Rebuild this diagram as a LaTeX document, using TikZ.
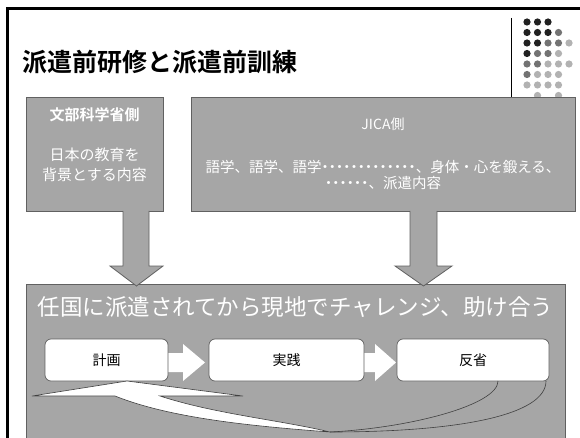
\documentclass[tikz,border=0pt]{standalone}
\usepackage{fontspec}
\setmainfont{Noto Sans CJK JP}[BoldFont={Noto Sans CJK JP Bold}]
\newfontfamily\proptext{Noto Sans CJK JP}[RawFeature={+palt}]
\newcommand{\dotrun}[1]{{\proptext #1}}
\usetikzlibrary{calc}

\definecolor{boxgray}{gray}{0.65}
\definecolor{edgegray}{gray}{0.38}
\definecolor{dotd}{gray}{0.13}
\definecolor{dotm}{gray}{0.45}
\definecolor{dotl}{gray}{0.70}

\tikzset{
  graybox/.style={draw=edgegray, fill=boxgray, line width=0.8pt, inner sep=0pt},
  stepbox/.style={draw=edgegray, fill=white, rounded corners=6pt, line width=0.7pt,
    inner sep=0pt, minimum height=42pt, font=\fontsize{14}{16}\selectfont},
  whitetext/.style={text=white, inner sep=0pt},
  blockarrow/.style={draw=edgegray, fill=boxgray, line width=0.8pt},
  flowarrow/.style={fill=white},
  backline/.style={draw=black!75, line width=0.6pt},
}

\begin{document}
\begin{tikzpicture}[x=1pt,y=-1pt]
\useasboundingbox (0,0) rectangle (580,438);
\clip (0,0) rectangle (580,438);
\fill[white] (0,0) rectangle (580,438);
% frame and title
\draw[line width=3pt] (7,442) -- (7,9) -- (584,9);
\node[anchor=west, inner sep=0pt, font=\fontsize{25}{30}\selectfont\bfseries] (title) at (22,62) {派遣前研修と派遣前訓練};
\draw[line width=0.8pt] (511,18) -- (511,97);
% dot pattern
\foreach \i/\j/\c in {1/1/d,1/2/d,1/3/d,
  2/1/d,2/2/d,2/3/d,2/4/m,
  3/1/d,3/2/d,3/3/m,3/4/m,3/5/l,
  4/1/d,4/2/m,4/3/m,4/4/l,
  5/1/m,5/2/m,5/3/l,5/4/l,5/5/l,
  6/1/m,6/2/l,6/3/l,6/4/l,
  7/1/l,7/2/l,7/3/l,7/4/l,
  8/2/l,8/4/l}
  \fill[dot\c] ({516.5+10.5*\j},{11.5+10.5*\i}) circle (3.6);
% upper boxes
\node[graybox, minimum width=137pt, minimum height=114pt] (mext) at (94.5,154) {};
\node[graybox, minimum width=384pt, minimum height=114pt] (jica) at (383,154) {};
\node[whitetext, font=\fontsize{15}{18}\selectfont\bfseries] (mexthead) at (94.5,115) {文部科学省側};
\node[whitetext, font=\fontsize{15}{20}\selectfont, align=center] (mextbody) at (94.5,165) {日本の教育を\\背景とする内容};
\node[whitetext, font=\fontsize{14}{16}\selectfont] (jicahead) at (383,124) {JICA側};
\node[whitetext, font=\fontsize{14.5}{15.5}\selectfont, align=center] (jicabody) at (383,175)
  {語学、語学、語学\dotrun{・・・・・・・・・・・・・}、身体・心を鍛える、\\\dotrun{・・・・・・}、派遣内容};
% lower box
\node[graybox, minimum width=539pt, minimum height=170pt, anchor=north] (field) at (295.5,284) {};
\node[whitetext, font=\fontsize{22.5}{26}\selectfont] (fieldhead) at (295.5,307) {任国に派遣されてから現地でチャレンジ、助け合う};
% down arrows
\draw[blockarrow] (123,211) -- (123,266) -- (110,266) -- (136.5,286) -- (163,266) -- (149,266) -- (149,211);
\draw[blockarrow] (410,211) -- (410,266) -- (395,266) -- (423.5,286) -- (452,266) -- (437,266) -- (437,211);
% steps
\fill[flowarrow] (168,353) -- (183,353) -- (183,344) -- (205,362.5) -- (183,381) -- (183,372) -- (168,372) -- cycle;
\fill[flowarrow] (364,353) -- (375,353) -- (375,344) -- (396,362.5) -- (375,381) -- (375,372) -- (364,372) -- cycle;
\node[stepbox, minimum width=123pt] (plan) at (106.5,360) {計画};
\node[stepbox, minimum width=155pt] (act) at (286.5,360) {実践};
\node[stepbox, minimum width=152pt] (review) at (473,360) {反省};
% return arrow
\draw[backline] (330,432) .. controls (410,428) and (498,405) .. (498,381);
\draw[backline] (330,432) .. controls (460,432) and (546,415) .. (546,381);
\filldraw[fill=white, backline] (115,396) -- (32,396) -- (127,381) -- (243,396) -- (160,396)
  .. controls (215,414) and (280,420) .. (330,432)
  .. controls (250,426) and (170,418) .. (115,396) -- cycle;
\end{tikzpicture}
\end{document}
